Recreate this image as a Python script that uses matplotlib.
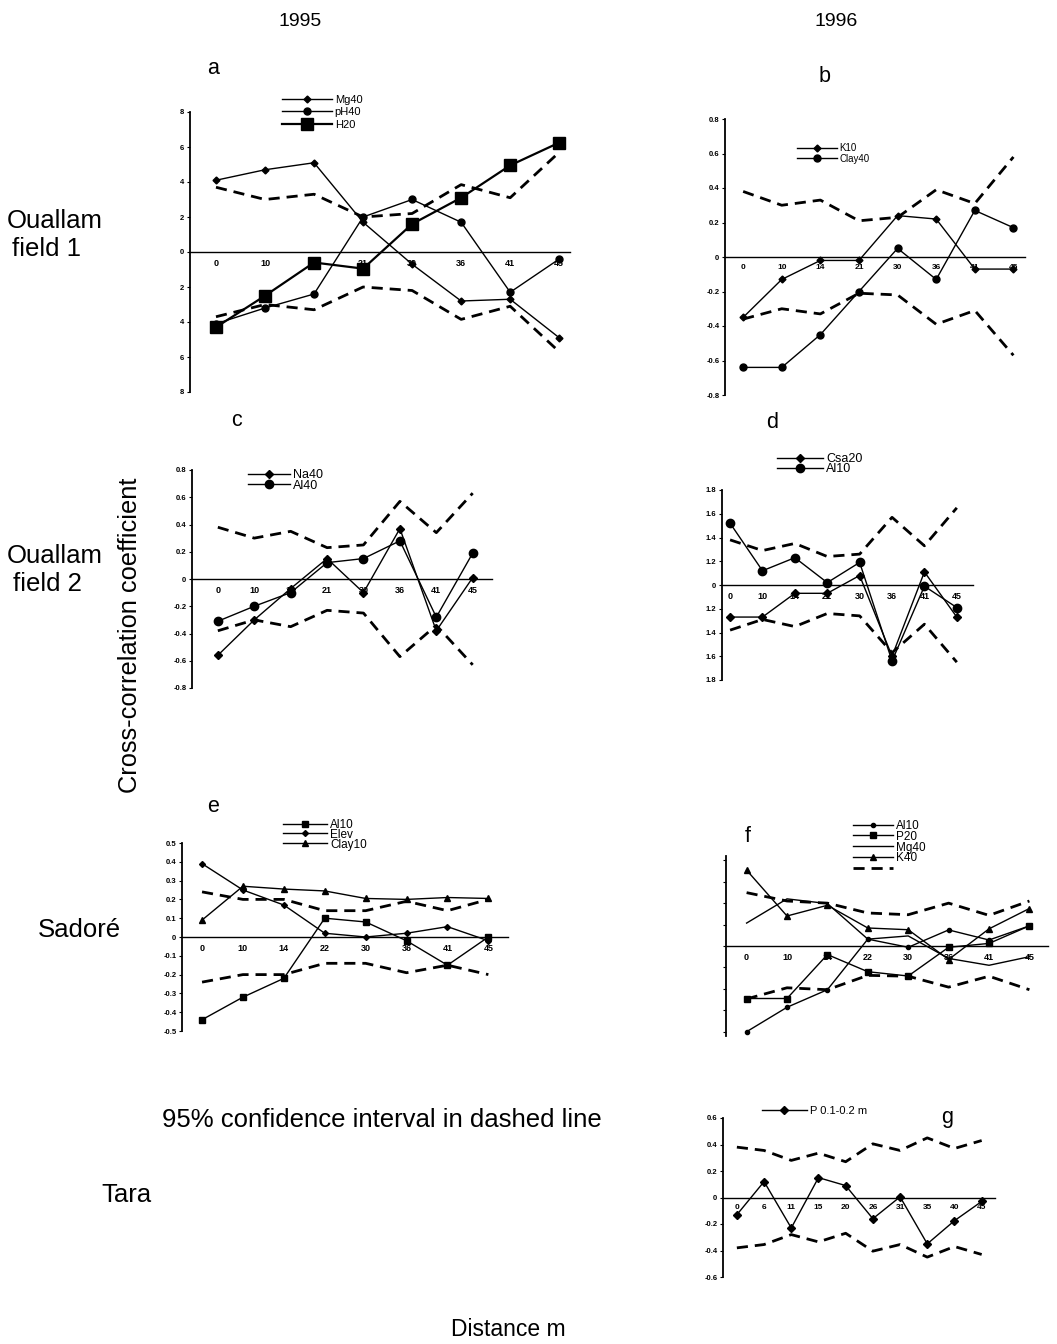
import numpy as np
import matplotlib
matplotlib.use("Agg")
from matplotlib import pyplot as plt

plt.rcParams['font.family'] = ['Liberation Sans', 'DejaVu Sans']

W, H = 1057, 1344

# distances (lag, m) per panel
dist_acd = ["0", "10", "14", "21", "30", "36", "41", "45"]
dist_ef = ["0", "10", "14", "22", "30", "36", "41", "45"]
dist_g = ["0", "6", "11", "15", "20", "26", "31", "35", "40", "45"]

# a - Ouallam field 1, 1995
a_mg40 = [4.1, 4.7, 5.1, 1.7, -0.7, -2.8, -2.7, -4.9]
a_ph40 = [-4.1, -3.2, -2.4, 2.0, 3.0, 1.7, -2.3, -0.4]
a_h20 = [-4.3, -2.5, -0.6, -0.95, 1.6, 3.1, 4.95, 6.25]
a_ci_up = [3.7, 3.0, 3.3, 2.0, 2.2, 3.85, 3.1, 5.7]
a_ci_lo = [-3.7, -3.0, -3.3, -2.0, -2.2, -3.85, -3.1, -5.7]
a_yticks = ["8", "6", "4", "2", "0", "2", "4", "6", "8"]

# b - Ouallam field 1, 1996
b_k10 = [-0.35, -0.13, -0.02, -0.02, 0.24, 0.22, -0.07, -0.07]
b_clay40 = [-0.64, -0.64, -0.45, -0.2, 0.05, -0.13, 0.27, 0.17]
b_ci_up = [0.38, 0.30, 0.33, 0.21, 0.23, 0.39, 0.31, 0.58]
b_ci_lo = [-0.36, -0.30, -0.33, -0.21, -0.22, -0.39, -0.31, -0.57]

# c - Ouallam field 2, 1995
c_na40 = [-0.56, -0.30, -0.07, 0.15, -0.10, 0.37, -0.38, 0.01]
c_al40 = [-0.31, -0.20, -0.10, 0.12, 0.15, 0.28, -0.28, 0.19]
c_ci_up = [0.38, 0.30, 0.35, 0.23, 0.25, 0.57, 0.34, 0.63]
c_ci_lo = [-0.38, -0.30, -0.35, -0.23, -0.25, -0.57, -0.34, -0.63]

# d - Ouallam field 2, 1996
d_csa20 = [-0.27, -0.27, -0.07, -0.07, 0.08, -0.60, 0.11, -0.27]
d_al10 = [0.52, 0.12, 0.23, 0.02, 0.19, -0.64, -0.01, -0.19]
d_ci_up = [0.38, 0.29, 0.35, 0.24, 0.26, 0.57, 0.33, 0.65]
d_ci_lo = [-0.38, -0.29, -0.35, -0.24, -0.26, -0.57, -0.33, -0.65]
d_yticks = ["1.8", "1.6", "1.4", "1.2", "0", "1.2", "1.4", "1.6", "1.8"]

# e - Sadore, 1995
e_al10 = [-0.44, -0.32, -0.22, 0.10, 0.08, -0.02, -0.15, 0.0]
e_elev = [0.39, 0.25, 0.17, 0.02, 0.0, 0.02, 0.055, -0.02]
e_clay10 = [0.09, 0.27, 0.255, 0.245, 0.205, 0.20, 0.21, 0.205]
e_ci_up = [0.24, 0.20, 0.20, 0.14, 0.14, 0.19, 0.14, 0.20]
e_ci_lo = [-0.24, -0.20, -0.20, -0.14, -0.14, -0.19, -0.15, -0.20]

# f - Sadore, 1996
f_al10 = [-0.40, -0.286, -0.204, 0.032, -0.006, 0.075, 0.028, 0.094]
f_p20 = [-0.245, -0.245, -0.04, -0.12, -0.14, -0.006, 0.012, 0.094]
f_mg40 = [0.107, 0.22, 0.198, 0.032, 0.047, -0.058, -0.09, -0.05]
f_k40 = [0.354, 0.14, 0.19, 0.084, 0.076, -0.063, 0.08, 0.175]
f_ci_up = [0.249, 0.21, 0.20, 0.154, 0.146, 0.20, 0.143, 0.21]
f_ci_lo = [-0.247, -0.195, -0.204, -0.137, -0.141, -0.192, -0.141, -0.204]

# g - Tara, 1996
g_p = [-0.13, 0.12, -0.23, 0.15, 0.09, -0.16, 0.005, -0.35, -0.175, -0.03]
g_ci_up = [0.38, 0.355, 0.28, 0.335, 0.27, 0.405, 0.355, 0.45, 0.37, 0.43]
g_ci_lo = [-0.38, -0.355, -0.28, -0.335, -0.27, -0.405, -0.355, -0.45, -0.37, -0.43]

fig = plt.figure(figsize=(W / 100, H / 100), dpi=100)


def panel(x0, x1, ytop, ybot, xlim, ylim, labels, yticks, ylabels, xfs=6.5):
    ax = fig.add_axes([x0 / W, 1 - ybot / H, (x1 - x0) / W, (ybot - ytop) / H])
    ax.set_xlim(xlim)
    ax.set_ylim(ylim)
    for s in ("top", "right"):
        ax.spines[s].set_visible(False)
    ax.spines["bottom"].set_position(("data", 0))
    ax.spines["bottom"].set_linewidth(1.0)
    ax.spines["left"].set_linewidth(1.3)
    ax.set_xticks(np.arange(len(labels)), labels)
    ax.tick_params(axis="x", length=0, pad=5, labelsize=xfs)
    ax.set_yticks(yticks)
    if ylabels is None:
        ax.set_yticklabels([])
    else:
        ax.set_yticklabels(ylabels)
    ax.tick_params(axis="y", length=2, width=0.8, pad=2, labelsize=5.5)
    for t in ax.get_xticklabels() + ax.get_yticklabels():
        t.set_fontweight("bold")
    ax.patch.set_alpha(0)
    return ax


def series(ax, vals, marker=None, ms=4, lw=1.0, label=None):
    return ax.plot(np.arange(len(vals)), vals, color="black", lw=lw, marker=marker,
                   ms=ms, zorder=3, label=label)[0]


def ci(ax, up, lo):
    x = np.arange(len(up))
    h = ax.plot(x, up, color="black", lw=2.0, ls=(0, (4, 2.5)), zorder=2)[0]
    ax.plot(x, lo, color="black", lw=2.0, ls=(0, (4, 2.5)), zorder=2)
    return h


def legend(ax, handles, labels, x, yrow, fs, hl_px, row_px):
    px = fs * 1.389
    ax.legend(handles, labels, loc="upper left",
              bbox_to_anchor=(x / W, 1 - (yrow - 0.62 * px) / H),
              bbox_transform=fig.transFigure, frameon=False, fontsize=fs,
              handlelength=hl_px / px, handletextpad=0.25, borderpad=0,
              borderaxespad=0, labelspacing=row_px / px - 1.15)


def ftext(x, y, s, fs, **kw):
    fig.text(x / W, 1 - y / H, s, fontsize=fs, ha="center", va="center", **kw)


sym8 = [0.8, 0.6, 0.4, 0.2, 0, -0.2, -0.4, -0.6, -0.8]
lab8 = ["0.8", "0.6", "0.4", "0.2", "0", "-0.2", "-0.4", "-0.6", "-0.8"]

# a
ax = panel(190, 570, 112, 392, (-0.53, 7.22), (-8, 8), dist_acd,
           [8, 6, 4, 2, 0, -2, -4, -6, -8], a_yticks)
h1 = series(ax, a_mg40, "D", 3.5)
h2 = series(ax, a_ph40, "o", 5)
h3 = series(ax, a_h20, "s", 8, lw=1.6)
ci(ax, a_ci_up, a_ci_lo)
legend(ax, [h1, h2, h3], ["Mg40", "pH40", "H20"], 282, 102, 8, 50, 15)

# b
ax = panel(725, 1025, 119, 395, (-0.47, 7.3), (-0.8, 0.8), dist_acd, sym8, lab8, xfs=6)
h1 = series(ax, b_k10, "D", 3.5)
h2 = series(ax, b_clay40, "o", 5)
ci(ax, b_ci_up, b_ci_lo)
legend(ax, [h1, h2], ["K10", "Clay40"], 797, 149, 7, 40, 12)

# c
ax = panel(192, 492, 470, 688, (-0.71, 7.53), (-0.8, 0.8), dist_acd, sym8, lab8)
h1 = series(ax, c_na40, "D", 4.5)
h2 = series(ax, c_al40, "o", 6)
ci(ax, c_ci_up, c_ci_lo)
legend(ax, [h1, h2], ["Na40", "Al40"], 248, 477, 9, 42, 13)

# d
ax = panel(722, 973, 490, 680, (-0.25, 7.5), (-0.8, 0.8), dist_acd, sym8, d_yticks)
h1 = series(ax, d_csa20, "D", 4.5)
h2 = series(ax, d_al10, "o", 6)
ci(ax, d_ci_up, d_ci_lo)
legend(ax, [h1, h2], ["Csa20", "Al10"], 777, 461, 9, 46, 12.5)

# e
ax = panel(182, 508, 843, 1031, (-0.49, 7.48), (-0.5, 0.5), dist_ef,
           [0.5, 0.4, 0.3, 0.2, 0.1, 0, -0.1, -0.2, -0.3, -0.4, -0.5],
           ["0.5", "0.4", "0.3", "0.2", "0.1", "0", "-0.1", "-0.2", "-0.3", "-0.4", "-0.5"])
h1 = series(ax, e_al10, "s", 4)
h2 = series(ax, e_elev, "D", 3)
h3 = series(ax, e_clay10, "^", 4)
ci(ax, e_ci_up, e_ci_lo)
legend(ax, [h1, h2, h3], ["Al10", "Elev", "Clay10"], 283, 826, 8.5, 44, 11.5)

# f
ax = panel(726, 1048, 856, 1036, (-0.51, 7.46), (-0.42, 0.42), dist_ef,
           [0.4, 0.3, 0.2, 0.1, 0, -0.1, -0.2, -0.3, -0.4], None)
h1 = series(ax, f_al10, "o", 3)
h2 = series(ax, f_p20, "s", 4)
h3 = series(ax, f_mg40)
h4 = series(ax, f_k40, "^", 5)
h5 = ci(ax, f_ci_up, f_ci_lo)
legend(ax, [h1, h2, h3, h4, h5], ["Al10", "P20", "Mg40", "K40", ""], 853, 827, 8.5, 40, 12.5)

# g
ax = panel(723, 995, 1118, 1277, (-0.51, 9.49), (-0.6, 0.6), dist_g,
           [0.6, 0.4, 0.2, 0, -0.2, -0.4, -0.6],
           ["0.6", "0.4", "0.2", "0", "-0.2", "-0.4", "-0.6"], xfs=6)
h1 = series(ax, g_p, "D", 4.5)
ci(ax, g_ci_up, g_ci_lo)
legend(ax, [h1], ["P 0.1-0.2 m"], 762, 1113, 8, 45, 12)

# headings, panel letters and row labels
ftext(300, 22, "1995", 14)
ftext(836, 22, "1996", 14)
for s, x, y in [("a", 213, 68), ("b", 825, 76), ("c", 237, 420), ("d", 772, 423),
                ("e", 213, 806), ("f", 748, 836), ("g", 947, 1117)]:
    ftext(x, y, s, 15.5)
ftext(55, 221, "Ouallam", 18.5)
ftext(47, 249, "field 1", 18.5)
ftext(55, 556, "Ouallam", 18.5)
ftext(47, 584, "field 2", 18.5)
ftext(79, 930, "Sadoré", 18.5)
ftext(126, 1195, "Tara", 18.5)
ftext(130, 635, "Cross-correlation coefficient", 18.3, rotation=90)
ftext(382, 1120, "95% confidence interval in dashed line", 18.5)
ftext(508, 1330, "Distance m", 16.5)

fig.savefig("out.png", dpi=100)
